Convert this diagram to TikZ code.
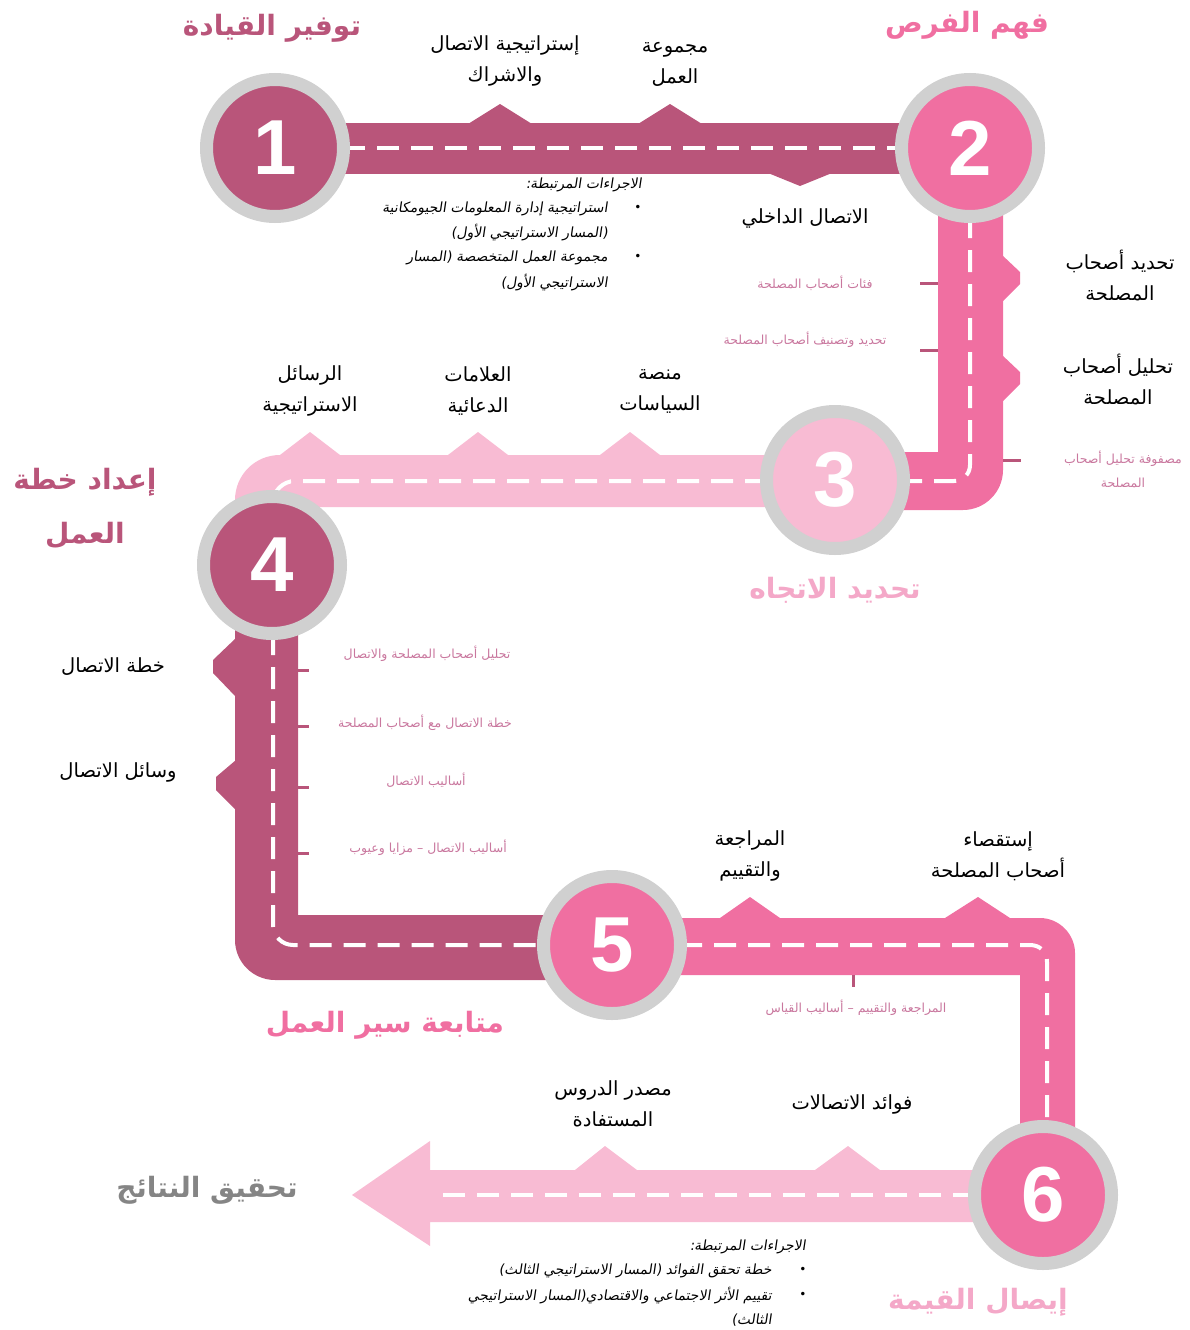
\documentclass[tikz,border=0pt]{standalone}
\usepackage{fontspec}
\newfontfamily\arabicfont[Script=Arabic]{DejaVu Sans}
\newfontfamily\arabicit[Script=Arabic, FakeSlant=0.15]{DejaVu Sans}
\newfontfamily\numfont{Liberation Sans}
\TeXXeTstate=1
\newcommand{\ar}[1]{{\arabicfont\beginR #1\endR}}
\newcommand{\ari}[1]{{\arabicit\beginR #1\endR}}
\definecolor{rose}{HTML}{B9557A}
\definecolor{pinkr}{HTML}{F06FA1}
\definecolor{lightp}{HTML}{F8BBD3}
\definecolor{ringg}{HTML}{D0D0D0}
\definecolor{smallp}{HTML}{C9779E}
\definecolor{titlelp}{HTML}{F4A8C8}
\definecolor{titlegr}{HTML}{858585}
\begin{document}
\begin{tikzpicture}[x=1pt,y=-1pt,
  dashline/.style={white, line width=4pt, dash pattern=on 22pt off 12pt},
  numc/.style={circle, draw=ringg, line width=13pt, minimum size=137pt, inner sep=0pt, text=white, font=\numfont\bfseries\fontsize{78}{78}\selectfont},
  ttl/.style={font=\arabicfont\bfseries\fontsize{28}{54}\selectfont, align=center},
  lbl/.style={font=\arabicfont\fontsize{19.5}{31}\selectfont, align=center, text=black},
  sml/.style={font=\arabicfont\fontsize{12.5}{24}\selectfont, align=center, text=smallp},
  itl/.style={font=\fontsize{14}{24}\selectfont, text=black, anchor=east, inner sep=0pt},
  bul/.style={font=\arabicfont\fontsize{12}{24}\selectfont, text=black, inner sep=0pt},
  tick/.style={rose, line width=3pt}
]
\useasboundingbox (0,0) rectangle (1189,1330);
% ---------- roads ----------
% road 6 (arrow)
\fill[lightp] (1043,1170) -- (430,1170) -- (430,1141) -- (352,1195) -- (430,1246) -- (430,1222) -- (1043,1222) -- cycle;
\fill[lightp] (575,1170) -- (605,1146) -- (637,1170) -- cycle;
\fill[lightp] (815,1170) -- (848,1146) -- (880,1170) -- cycle;
% road 5
\fill[pinkr] (612,918) -- (1040,918) .. controls (1059,918) and (1075,934) .. (1075,953) -- (1075,1195) -- (1020,1195) -- (1020,975) -- (612,975) -- cycle;
\fill[pinkr] (720,918) -- (750,897) -- (780,918) -- cycle;
\fill[pinkr] (945,918) -- (978,897) -- (1010,918) -- cycle;
% road 4
\fill[rose] (235,565) -- (235,940) .. controls (235,962) and (253,980) .. (275,980) -- (612,980) -- (612,915) -- (298,915) -- (298,565) -- cycle;
\fill[rose] (236,638) -- (213,660) -- (213,673) -- (236,697) -- cycle;
\fill[rose] (236,760) -- (216,777) -- (216,790) -- (236,810) -- cycle;
% road 3
\fill[lightp] (835,455) -- (280,455) .. controls (255,455) and (235,475) .. (235,500) -- (235,565) -- (298,565) -- (298,507) -- (835,507) -- cycle;
\fill[lightp] (280,455) -- (310,432) -- (340,455) -- cycle;
\fill[lightp] (448,455) -- (478,432) -- (508,455) -- cycle;
\fill[lightp] (600,455) -- (630,432) -- (660,455) -- cycle;
% road 2
\fill[pinkr] (938,148) -- (1003,148) -- (1003,470) .. controls (1003,492) and (985,510) .. (963,510) -- (835,510) -- (835,452) -- (938,452) -- cycle;
\fill[pinkr] (1002,255) -- (1020,272) -- (1020,284) -- (1002,302) -- cycle;
\fill[pinkr] (1002,355) -- (1020,372) -- (1020,384) -- (1002,402) -- cycle;
% road 1
\fill[rose] (275,123) rectangle (970,174);
\fill[rose] (468,124) -- (500,104) -- (532,124) -- cycle;
\fill[rose] (638,124) -- (670,104) -- (702,124) -- cycle;
\fill[rose] (768,173) -- (800,186) -- (832,173) -- cycle;
% ticks
\draw[tick] (920,283) -- (938,283);
\draw[tick] (920,350) -- (938,350);
\draw[tick] (1003,460) -- (1021,460);
\draw[tick] (298,670) -- (309,670);
\draw[tick] (298,726) -- (309,726);
\draw[tick] (298,787) -- (309,787);
\draw[tick] (298,853) -- (309,853);
\draw[tick] (853,975) -- (853,987);
% dashes
\draw[dashline] (275,148) -- (970,148);
\draw[dashline] (970,148) -- (970,465) .. controls (970,474) and (963,481) .. (954,481) -- (835,481);
\draw[dashline] (835,481) -- (295,481) .. controls (283,481) and (273,491) .. (273,503) -- (273,565);
\draw[dashline] (273,565) -- (273,925) .. controls (273,936) and (282,945) .. (293,945) -- (612,945);
\draw[dashline] (612,945) -- (1030,945) .. controls (1040,945) and (1047,952) .. (1047,962) -- (1047,1195);
\draw[dashline] (1043,1195) -- (440,1195);
% ---------- circles ----------
\node[numc, fill=rose]   (c1) at (275,148) {1};
\node[numc, fill=pinkr]  (c2) at (970,148) {2};
\node[numc, fill=lightp] (c3) at (835,480) {3};
\node[numc, fill=rose]   (c4) at (272,565) {4};
\node[numc, fill=pinkr]  (c5) at (612,945) {5};
\node[numc, fill=pinkr]  (c6) at (1043,1195) {6};
% ---------- titles ----------
\node[ttl, text=rose]    (t1) at (272,28) {\ar{توفير القيادة}};
\node[ttl, text=pinkr]   (t2) at (967,25) {\ar{فهم الفرص}};
\node[ttl, text=rose]    (t4) at (85,508) {\ar{إعداد خطة}\\\ar{العمل}};
\node[ttl, text=titlelp] (t3) at (835,590) {\ar{تحديد الاتجاه}};
\node[ttl, text=pinkr]   (t5) at (385,1025) {\ar{متابعة سير العمل}};
\node[ttl, text=titlegr] (t6) at (207,1190) {\ar{تحقيق النتائج}};
\node[ttl, text=titlelp] (t7) at (978,1302) {\ar{إيصال القيمة}};
% ---------- black labels ----------
\node[lbl] (l1) at (505,61) {\ar{إستراتيجية الاتصال}\\\ar{والاشراك}};
\node[lbl] (l2) at (675,64) {\ar{مجموعة}\\\ar{العمل}};
\node[lbl] (l3) at (805,218) {\ar{الاتصال الداخلي}};
\node[lbl] (l4) at (1120,275) {\ar{تحديد أصحاب}\\\ar{المصلحة}};
\node[lbl] (l5) at (1118,379) {\ar{تحليل أصحاب}\\\ar{المصلحة}};
\node[lbl] (l6) at (310,391) {\ar{الرسائل}\\\ar{الاستراتيجية}};
\node[lbl] (l7) at (478,391) {\ar{العلامات}\\\ar{الدعائية}};
\node[lbl] (l8) at (660,391) {\ar{منصة}\\\ar{السياسات}};
\node[lbl] (l9) at (113,667) {\ar{خطة الاتصال}};
\node[lbl] (l10) at (118,772) {\ar{وسائل الاتصال}};
\node[lbl] (l11) at (750,856) {\ar{المراجعة}\\\ar{والتقييم}};
\node[lbl] (l12) at (998,856) {\ar{إستقصاء}\\\ar{أصحاب المصلحة}};
\node[lbl] (l13) at (613,1104) {\ar{مصدر الدروس}\\\ar{المستفادة}};
\node[lbl] (l14) at (852,1104) {\ar{فوائد الاتصالات}};
% ---------- small pink labels ----------
\node[sml] (s1) at (815,283) {\ar{فئات أصحاب المصلحة}};
\node[sml] (s2) at (805,340) {\ar{تحديد وتصنيف أصحاب المصلحة}};
\node[sml] (s3) at (1123,469) {\ar{مصفوفة تحليل أصحاب}\\\ar{المصلحة}};
\node[sml] (s4) at (427,654) {\ar{تحليل أصحاب المصلحة والاتصال}};
\node[sml] (s5) at (425,723) {\ar{خطة الاتصال مع أصحاب المصلحة}};
\node[sml] (s6) at (426,780) {\ar{أساليب الاتصال}};
\node[sml] (s7) at (428,848) {\ar{أساليب الاتصال – مزايا وعيوب}};
\node[sml] (s8) at (856,1008) {\ar{المراجعة والتقييم – أساليب القياس}};
% ---------- related actions (top) ----------
\node[itl] (a0) at (642,185) {\ari{الاجراءات المرتبطة:}};
\node[bul] (b1) at (638,208) {•};
\node[itl] (a1) at (608,209) {\ari{استراتيجية إدارة المعلومات الجيومكانية}};
\node[itl] (a2) at (608,233) {\ari{(المسار الاستراتيجي الأول)}};
\node[bul] (b2) at (638,257) {•};
\node[itl] (a3) at (608,258) {\ari{مجموعة العمل المتخصصة (المسار}};
\node[itl] (a4) at (608,283) {\ari{الاستراتيجي الأول)}};
% ---------- related actions (bottom) ----------
\node[itl] (d0) at (806,1247) {\ari{الاجراءات المرتبطة:}};
\node[bul] (e1) at (803,1270) {•};
\node[itl] (d1) at (772,1271) {\ari{خطة تحقق الفوائد (المسار الاستراتيجي الثالث)}};
\node[bul] (e2) at (803,1295) {•};
\node[itl] (d2) at (772,1296) {\ari{تقييم الأثر الاجتماعي والاقتصادي(المسار الاستراتيجي}};
\node[itl] (d3) at (772,1320) {\ari{الثالث)}};
\end{tikzpicture}
\end{document}
